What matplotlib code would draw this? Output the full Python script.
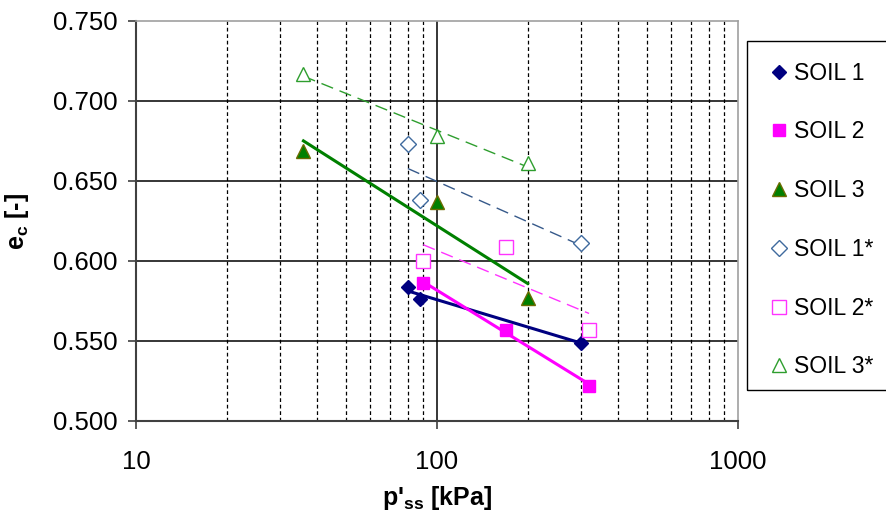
import numpy as np
import matplotlib
matplotlib.use("Agg")
import matplotlib.pyplot as plt
from matplotlib.patches import Rectangle
from matplotlib.ticker import FixedLocator, NullFormatter

plt.rcParams["font.family"] = ["Liberation Sans", "DejaVu Sans"]
plt.rcParams["mathtext.fontset"] = "custom"
plt.rcParams["mathtext.rm"] = "Liberation Sans"
plt.rcParams["mathtext.bf"] = "Liberation Sans:bold"

# --- datos ---
soil1_p = [80, 88, 300]
soil1_e = [0.584, 0.576, 0.549]
soil2_p = [90, 170, 320]
soil2_e = [0.586, 0.557, 0.522]
soil3_p = [36, 100, 200]
soil3_e = [0.669, 0.637, 0.577]
soil1s_p = [80, 88, 300]
soil1s_e = [0.673, 0.638, 0.611]
soil2s_p = [90, 170, 320]
soil2s_e = [0.600, 0.609, 0.557]
soil3s_p = [36, 100, 200]
soil3s_e = [0.717, 0.678, 0.661]

series = [
    ("SOIL 1", soil1_p, soil1_e, dict(marker="D", ms=7, mfc="#000080", mec="#000080"), dict(color="#000080", lw=2.2)),
    ("SOIL 2", soil2_p, soil2_e, dict(marker="s", ms=8.5, mfc="#FF00FF", mec="#FF00FF"), dict(color="#FF00FF", lw=2.2)),
    ("SOIL 3", soil3_p, soil3_e, dict(marker="^", ms=10.5, mfc="#008000", mec="#6B6B00", mew=1), dict(color="#008000", lw=2.2)),
    ("SOIL 1*", soil1s_p, soil1s_e, dict(marker="D", ms=8.5, mfc="white", mec="#3F6A9E", mew=1), dict(color="#36598A", lw=1.0, dashes=(9, 5))),
    ("SOIL 2*", soil2s_p, soil2s_e, dict(marker="s", ms=10.5, mfc="white", mec="#FF33FF", mew=1), dict(color="#FF33FF", lw=1.0, dashes=(9, 5))),
    ("SOIL 3*", soil3s_p, soil3s_e, dict(marker="^", ms=10.5, mfc="white", mec="#2E9E2E", mew=1), dict(color="#2E9E2E", lw=1.0, dashes=(9, 5))),
]

fig = plt.figure(figsize=(8.87, 5.13), dpi=100)
ax = fig.add_axes([136 / 887, 1 - 421 / 513, 602 / 887, 400 / 513])

handles = []
for nombre, p, e, mk, ln in series:
    # linea de tendencia logaritmica (como en Excel)
    a, b = np.polyfit(np.log10(p), e, 1)
    xs = np.array([min(p), max(p)])
    ax.plot(xs, a * np.log10(xs) + b, zorder=3, **ln)
    h, = ax.plot(p, e, ls="none", zorder=4, label=nombre, **mk)
    handles.append(h)

ax.set_xscale("log")
ax.set_xlim(10, 1000)
ax.set_ylim(0.5, 0.75)
ax.xaxis.set_major_locator(FixedLocator([10, 100, 1000]))
ax.xaxis.set_minor_locator(FixedLocator([20, 30, 40, 50, 60, 70, 80, 90,
                                         200, 300, 400, 500, 600, 700, 800, 900]))
ax.xaxis.set_minor_formatter(NullFormatter())
ax.set_xticklabels(["10", "100", "1000"])
ax.set_yticks([0.5, 0.55, 0.6, 0.65, 0.7, 0.75])
ax.set_yticklabels(["%.3f" % v for v in [0.5, 0.55, 0.6, 0.65, 0.7, 0.75]])

# rejilla
for v in [0.55, 0.6, 0.65, 0.7]:
    ax.axhline(v, color="black", lw=1.1, zorder=1)
ax.axvline(100, color="black", lw=1.1, zorder=1)
for v in [20, 30, 40, 50, 60, 70, 80, 90, 200, 300, 400, 500, 600, 700, 800, 900]:
    ax.axvline(v, color="black", lw=0.9, dashes=(3, 2.2), zorder=1)

ax.tick_params(axis="both", which="major", direction="out", length=6, width=1.2,
               color="#404040", labelsize=18.5)
ax.tick_params(axis="x", which="minor", length=0)
ax.tick_params(axis="x", which="major", pad=15)
ax.tick_params(axis="y", which="major", pad=7)
ax.tick_params(top=False, right=False)

for s in ["left", "bottom"]:
    ax.spines[s].set_color("#404040")
    ax.spines[s].set_linewidth(1.5)
for s in ["top", "right"]:
    ax.spines[s].set_color("#A0A0A0")
    ax.spines[s].set_linewidth(1.2)

ax.set_ylabel("e$_\\mathbf{c}$ [-]", fontsize=18, fontweight="bold")
ax.set_xlabel("p'$_\\mathbf{ss}$ [kPa]", fontsize=18, fontweight="bold")
ax.yaxis.set_label_coords((31 - 136) / 602, 0.5)
ax.xaxis.set_label_coords(0.5, -(484 - 421) / 400)

# leyenda sin marco; el marco se dibuja aparte
ax.legend(handles=handles, loc="upper left", bbox_to_anchor=(747 / 887, 1 - 41 / 513),
          bbox_transform=fig.transFigure, fontsize=16.5, frameon=False,
          borderpad=0.9, labelspacing=1.56, handlelength=1.0, handletextpad=0.15,
          borderaxespad=0)
fig.patches.append(Rectangle((747 / 887, 1 - 390 / 513), 150 / 887, 349 / 513,
                             transform=fig.transFigure, fill=False, edgecolor="black",
                             lw=1.0))

fig.savefig("out.png", dpi=100)
